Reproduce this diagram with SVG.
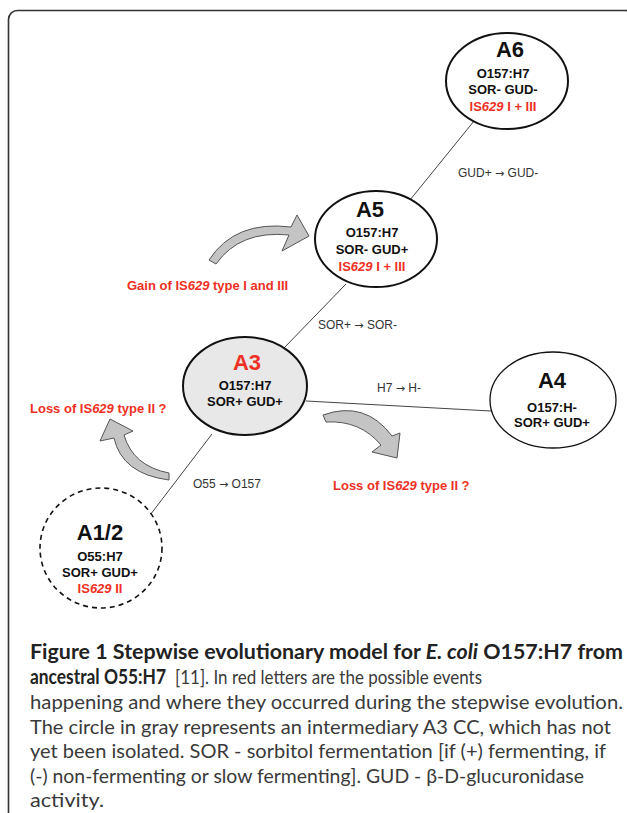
<svg xmlns="http://www.w3.org/2000/svg" width="627" height="813" viewBox="0 0 627 813">
<style>
.nd{fill:#fff;stroke:#111;stroke-width:2}
.lbl{font-family:"Liberation Sans",Arial,sans-serif;font-weight:bold;fill:#111;text-anchor:middle}
.big{font-size:22px}
.sm{font-size:13px}
.red{fill:#ee3124}
.edge{font-family:"Liberation Sans",Arial,sans-serif;font-size:12px;fill:#333}
.ar{font-family:"DejaVu Sans",sans-serif;font-size:11px}
.ev{font-family:"Liberation Sans",Arial,sans-serif;font-size:13px;font-weight:bold;fill:#ee3124}
.arr{fill:#c4c4c4;stroke:#555;stroke-width:1}
.cap{font-family:Lato,"Open Sans",sans-serif;font-size:20px;fill:#3a3a3a}
.b{font-weight:bold;fill:#222}
</style>
<rect x="8.5" y="10.5" width="626" height="840" rx="9" fill="none" stroke="#333" stroke-width="1.6"/>
<g id="connectors" stroke="#444" stroke-width="1" fill="none">
<line x1="474" y1="121" x2="410" y2="200"/>
<line x1="346" y1="284" x2="284" y2="348"/>
<line x1="306" y1="401" x2="491" y2="411"/>
<line x1="212" y1="434" x2="144" y2="523"/>
</g>
<g id="edge-labels">
<text class="edge" x="458" y="177">GUD+ <tspan class="ar">→</tspan> GUD-</text>
<text class="edge" x="318" y="329">SOR+ <tspan class="ar">→</tspan> SOR-</text>
<text class="edge" x="377" y="392">H7 <tspan class="ar">→</tspan> H-</text>
<text class="edge" x="193" y="488">O55 <tspan class="ar">→</tspan> O157</text>
</g>
<g id="events">
<path class="arr" d="M209 260 Q235 220 291 227 L297 215 L309 236 L282 251 L289 235 Q240 230 216 264 Z"/>
<text class="ev" x="127" y="290">Gain of IS<tspan font-style="italic">629</tspan> type I and III</text>
<path class="arr" d="M110 419 L133 431 L124 435 Q133 466 169 473 L169 480 Q122 474 114 438 L100 441 Z"/>
<text class="ev" x="30" y="413">Loss of IS<tspan font-style="italic">629</tspan> type II ?</text>
<path class="arr" d="M323 415 Q365 400 392 436 L400 433 L397 458 L372 452 L381 445 Q360 420 326 422 Z"/>
<text class="ev" x="333" y="490">Loss of IS<tspan font-style="italic">629</tspan> type II ?</text>
</g>
<g id="A6">
<ellipse class="nd" cx="507" cy="81" rx="61" ry="48"/>
<text class="lbl big" x="510" y="57">A6</text>
<text class="lbl sm" x="503" y="78">O157:H7</text>
<text class="lbl sm" x="503" y="94">SOR- GUD-</text>
<text class="lbl sm red" x="503" y="111">IS<tspan font-style="italic">629</tspan> I + III</text>
</g>
<g id="A5">
<ellipse class="nd" cx="376" cy="239" rx="61" ry="48"/>
<text class="lbl big" x="370" y="217">A5</text>
<text class="lbl sm" x="372" y="237">O157:H7</text>
<text class="lbl sm" x="372" y="254">SOR- GUD+</text>
<text class="lbl sm red" x="372" y="271">IS<tspan font-style="italic">629</tspan> I + III</text>
</g>
<g id="A3">
<ellipse class="nd" cx="245" cy="386" rx="62" ry="49" style="fill:#e8e8e8"/>
<text class="lbl big red" x="247" y="370">A3</text>
<text class="lbl sm" x="245" y="390">O157:H7</text>
<text class="lbl sm" x="245" y="406">SOR+ GUD+</text>
</g>
<g id="A4">
<ellipse class="nd" cx="553" cy="400" rx="63" ry="48" style="stroke-width:1.3"/>
<text class="lbl big" x="552" y="388">A4</text>
<text class="lbl sm" x="552" y="412">O157:H-</text>
<text class="lbl sm" x="552" y="427">SOR+ GUD+</text>
</g>
<g id="A1-2">
<ellipse class="nd" cx="101" cy="548" rx="61" ry="60" stroke-dasharray="5 4" style="stroke-width:1.6"/>
<text class="lbl big" x="100" y="540">A1/2</text>
<text class="lbl sm" x="100" y="561">O55:H7</text>
<text class="lbl sm" x="100" y="577">SOR+ GUD+</text>
<text class="lbl sm red" x="100" y="593">IS<tspan font-style="italic">629</tspan> II</text>
</g>
<g id="caption">
<text class="cap b" x="30" y="659" textLength="593" lengthAdjust="spacingAndGlyphs">Figure 1 Stepwise evolutionary model for <tspan font-style="italic">E. coli</tspan> O157:H7 from</text>
<text class="cap b" x="30" y="684" textLength="136" lengthAdjust="spacingAndGlyphs">ancestral O55:H7</text>
<text class="cap" x="175" y="684" textLength="307" lengthAdjust="spacingAndGlyphs">[11]. In red letters are the possible events</text>
<text class="cap" x="30" y="709" textLength="593" lengthAdjust="spacingAndGlyphs">happening and where they occurred during the stepwise evolution.</text>
<text class="cap" x="30" y="734" textLength="581" lengthAdjust="spacingAndGlyphs">The circle in gray represents an intermediary A3 CC, which has not</text>
<text class="cap" x="30" y="758" textLength="576" lengthAdjust="spacingAndGlyphs">yet been isolated. SOR - sorbitol fermentation [if (+) fermenting, if</text>
<text class="cap" x="30" y="783" textLength="554" lengthAdjust="spacingAndGlyphs">(-) non-fermenting or slow fermenting]. GUD - β-D-glucuronidase</text>
<text class="cap" x="30" y="807" textLength="74" lengthAdjust="spacingAndGlyphs">activity.</text>
</g>
</svg>
